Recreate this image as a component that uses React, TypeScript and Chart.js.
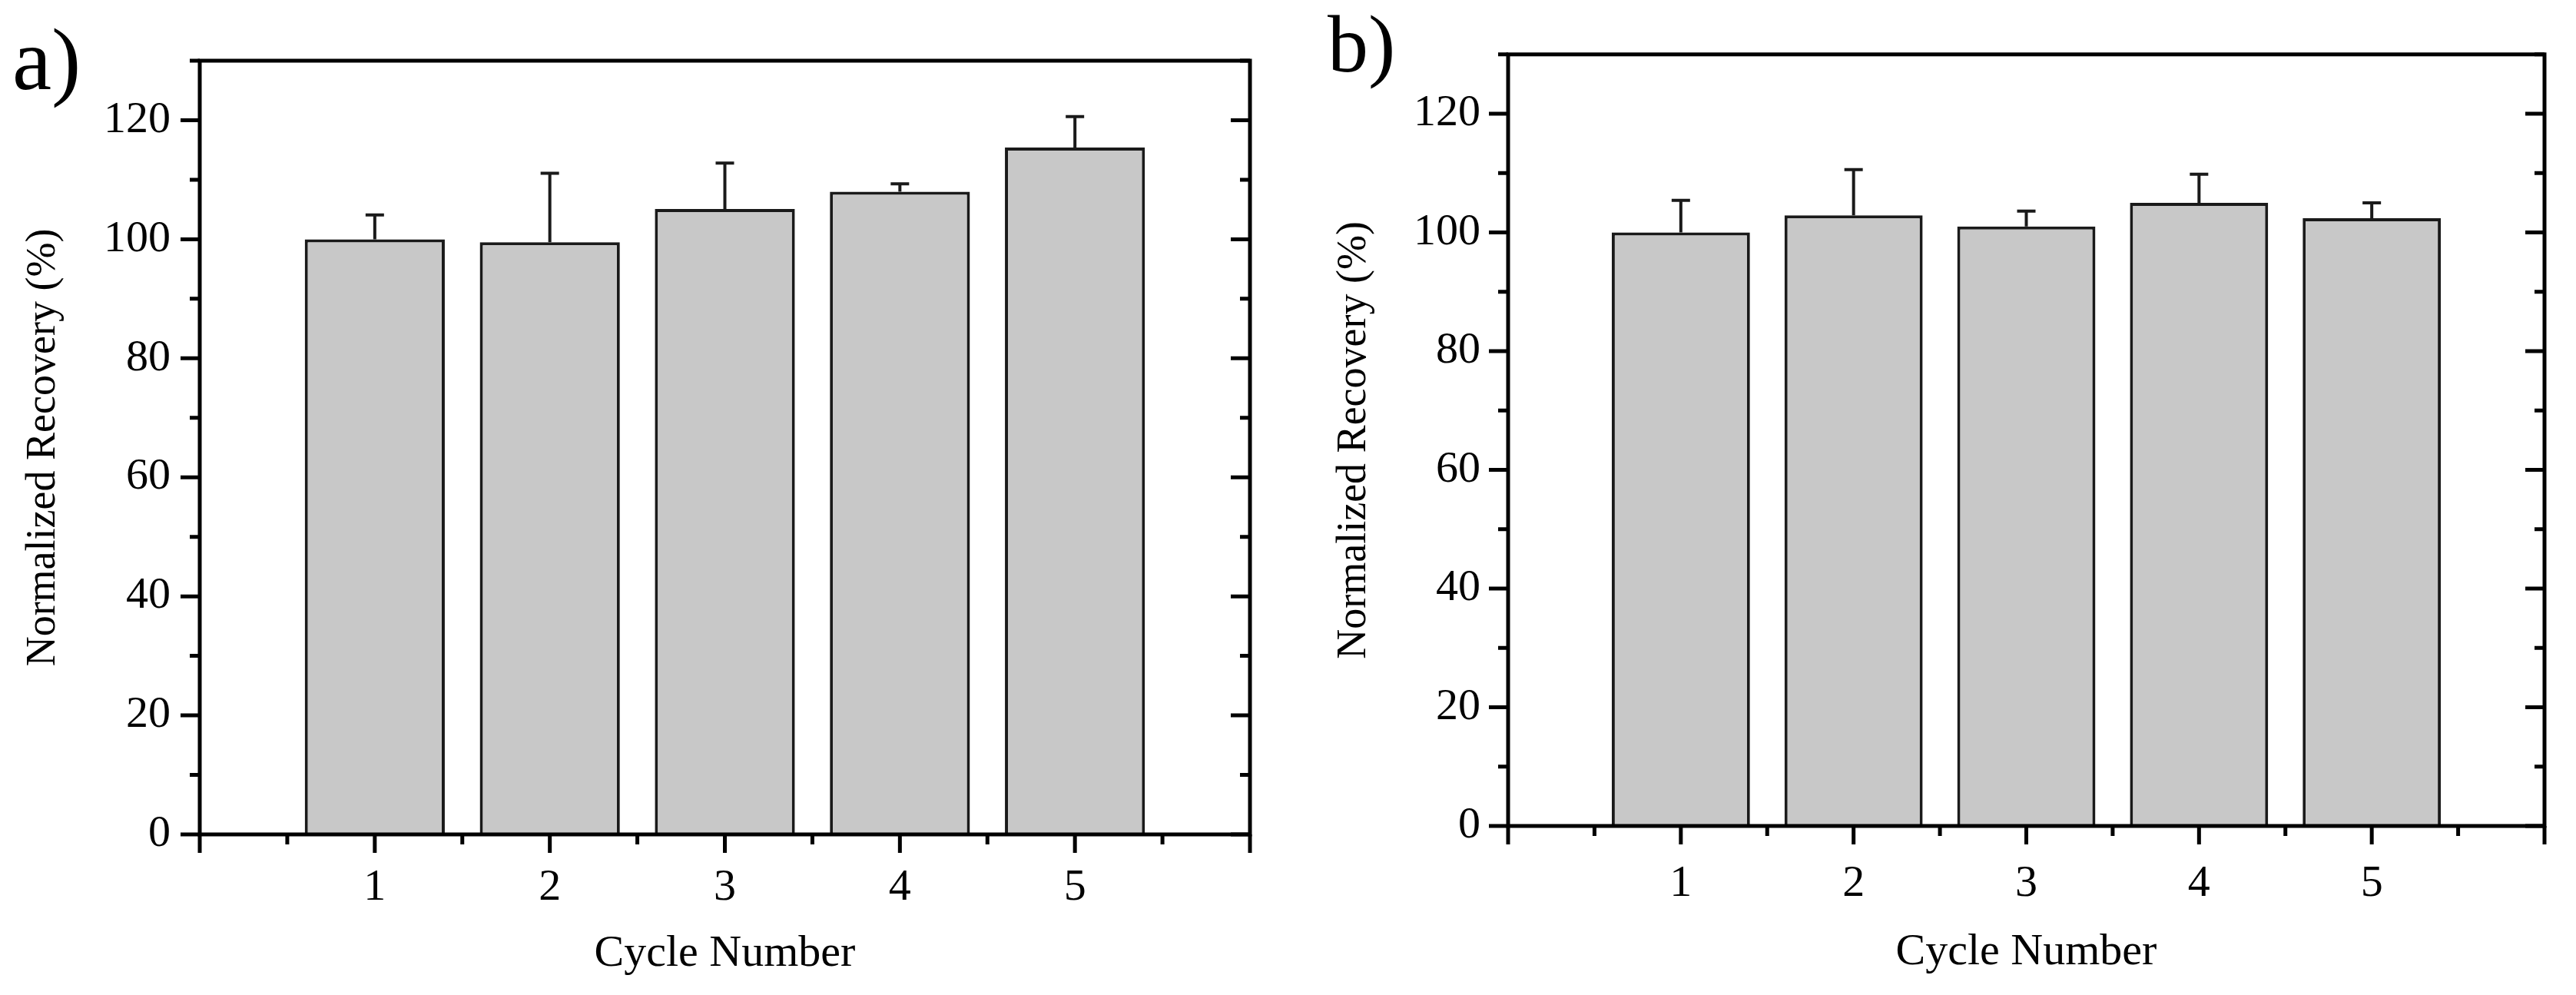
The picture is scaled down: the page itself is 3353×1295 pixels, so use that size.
import React, { useEffect, useRef } from "react";
import { Chart, registerables } from "chart.js";

Chart.register(...registerables);

// values
const cycles = [1, 2, 3, 4, 5];
const recoveryA = [100, 99.5, 105.1, 108.0, 115.4];
const errorA = [4.1, 11.6, 7.7, 1.3, 5.2];
const recoveryB = [100, 102.9, 101.0, 105.0, 102.4];
const errorB = [5.4, 7.7, 2.6, 4.8, 2.6];
const xTickLabels = ["1", "2", "3", "4", "5"];

const Y_MAX = 130;
const Y_MAJOR = 20;
const Y_MINOR = 10;
const X_MAX = 6;

const serif = "'Liberation Serif', 'Times New Roman', serif";

// upper error bars with a cap, placed with the chart's own scales
const errorBars = {
  id: "errorBars",
  afterDatasetsDraw(chart, _args, opts) {
    const { ctx, scales } = chart;
    const values = chart.data.datasets[0].data;
    ctx.save();
    ctx.strokeStyle = "#1a1a1a";
    ctx.lineWidth = 4;
    values.forEach((p, i) => {
      const err = opts.errors[i];
      const px = scales.x.getPixelForValue(p.x);
      const y0 = scales.y.getPixelForValue(p.y);
      const y1 = scales.y.getPixelForValue(p.y + err);
      ctx.beginPath();
      ctx.moveTo(px, y0);
      ctx.lineTo(px, y1);
      ctx.moveTo(px - 12, y1);
      ctx.lineTo(px + 12, y1);
      ctx.stroke();
    });
    ctx.restore();
  },
};

// Origin-style box with outward ticks left/bottom, inward ticks right
const frameTicks = {
  id: "frameTicks",
  afterDraw(chart) {
    const { ctx, chartArea, scales } = chart;
    const { left, right, top, bottom } = chartArea;
    ctx.save();
    ctx.strokeStyle = "#000";
    ctx.lineWidth = 5;
    ctx.strokeRect(left, top, right - left, bottom - top);
    ctx.beginPath();
    for (let v = 0; v <= Y_MAX; v += Y_MINOR) {
      const py = scales.y.getPixelForValue(v);
      const len = v % Y_MAJOR === 0 ? 25 : 13;
      ctx.moveTo(left - len, py);
      ctx.lineTo(left, py);
      ctx.moveTo(right, py);
      ctx.lineTo(right - len, py);
    }
    for (let v = 0; v <= X_MAX; v += 0.5) {
      const px = scales.x.getPixelForValue(v);
      const len = Number.isInteger(v) ? 24 : 13;
      ctx.moveTo(px, bottom);
      ctx.lineTo(px, bottom + len);
    }
    ctx.stroke();
    ctx.restore();
  },
};

const Panel = ({ values, errors, width, pad, yWidth, yTitlePad, yTickPad, xTickPad, xTitlePad }) => {
  const canvasRef = useRef(null);
  const chartRef = useRef(null);

  useEffect(() => {
    if (chartRef.current) chartRef.current.destroy();
    chartRef.current = new Chart(canvasRef.current, {
      type: "bar",
      data: {
        datasets: [
          {
            data: cycles.map((c, i) => ({ x: c, y: values[i] })),
            backgroundColor: "#c8c8c8",
            borderColor: "#1a1a1a",
            borderWidth: 4,
            borderSkipped: "bottom",
            categoryPercentage: 1,
            barPercentage: 0.8,
          },
        ],
      },
      options: {
        responsive: false,
        animation: false,
        layout: { padding: pad },
        plugins: {
          legend: { display: false },
          tooltip: { enabled: false },
          errorBars: { errors },
        },
        scales: {
          x: {
            type: "linear",
            min: 0,
            max: X_MAX,
            offset: false,
            grid: { display: false, drawTicks: false, offset: false },
            border: { display: false },
            ticks: {
              stepSize: 1,
              autoSkip: false,
              maxRotation: 0,
              padding: xTickPad,
              color: "#000",
              font: { family: serif, size: 58 },
              callback: (v) => (v >= 1 && v <= 5 ? xTickLabels[v - 1] : ""),
            },
            title: {
              display: true,
              text: "Cycle Number",
              color: "#000",
              font: { family: serif, size: 58 },
              padding: { top: 0, bottom: xTitlePad },
            },
            afterFit: (s) => {
              s.height = 200;
            },
          },
          y: {
            min: 0,
            max: Y_MAX,
            grid: { display: false, drawTicks: false },
            border: { display: false },
            ticks: {
              stepSize: Y_MAJOR,
              includeBounds: false,
              padding: yTickPad,
              color: "#000",
              font: { family: serif, size: 58 },
            },
            title: {
              display: true,
              text: "Normalized Recovery (%)",
              color: "#000",
              font: { family: serif, size: 54 },
              padding: { top: yTitlePad, bottom: 0 },
            },
            afterFit: (s) => {
              s.width = yWidth;
            },
          },
        },
      },
      plugins: [errorBars, frameTicks],
    });
    return () => {
      if (chartRef.current) {
        chartRef.current.destroy();
        chartRef.current = null;
      }
    };
  }, []);

  return <canvas ref={canvasRef} width={width} height={1295} style={{ display: "block" }} />;
};

const labelStyle = {
  position: "absolute",
  fontFamily: serif,
  color: "#000",
  margin: 0,
};

export default function App() {
  return (
    <div style={{ position: "fixed", left: 0, top: 0, width: 3353, height: 1295, background: "#fff", display: "flex" }}>
      <Panel
        values={recoveryA}
        errors={errorA}
        width={1676}
        pad={{ left: 0, top: 79, right: 49, bottom: 9 }}
        yWidth={260}
        yTitlePad={24}
        yTickPad={38}
        xTickPad={35}
        xTitlePad={9}
      />
      <Panel
        values={recoveryB}
        errors={errorB}
        width={1677}
        pad={{ left: 0, top: 64, right: 19, bottom: 20 }}
        yWidth={287}
        yTitlePad={54}
        yTickPad={36}
        xTickPad={41}
        xTitlePad={0}
      />
      <span style={{ ...labelStyle, left: 16, top: 20, fontSize: 115, lineHeight: "115px" }}>a)</span>
      <span style={{ ...labelStyle, left: 1728, top: 5, fontSize: 106, lineHeight: "106px" }}>b)</span>
    </div>
  );
}
